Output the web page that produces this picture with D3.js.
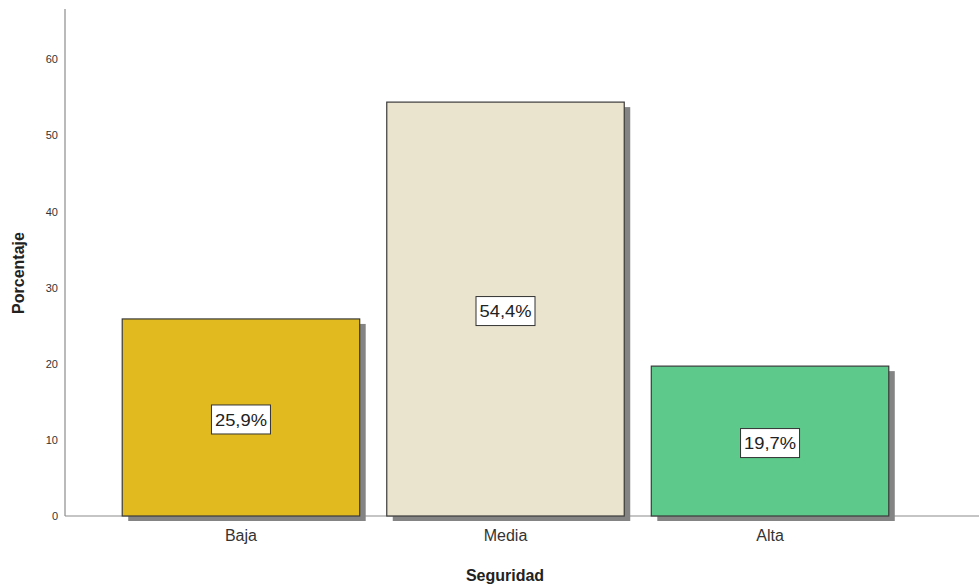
<!DOCTYPE html>
<html>
<head>
<meta charset="utf-8">
<script src="https://cdn.jsdelivr.net/npm/d3@7"></script>
<style>
  body { margin: 0; background: #fff; }
  svg { display: block; font-family: Arial, "Liberation Sans", sans-serif; }
</style>
</head>
<body>
<svg id="chart" width="979" height="584"></svg>
<script>
// Security level distribution (percent of respondents)
const categories = ["Baja", "Media", "Alta"];
const percentages = [25.9, 54.4, 19.7];
const barColors = ["#E0BA1E", "#EAE3CE", "#5DC98A"];
const yTicks = [0, 10, 20, 30, 40, 50, 60];

const svg = d3.select("#chart");
const left = 65, right = 979, bottom = 516;

const y = d3.scaleLinear().domain([0, 60]).range([bottom, 59.5]);
const x = d3.scaleBand().domain(categories)
  .range([109, 902]).paddingInner(0.1023).paddingOuter(0.05);

// axes
svg.append("line").attr("x1", left).attr("x2", left)
  .attr("y1", 9).attr("y2", bottom).attr("stroke", "#8c8c8c").attr("stroke-width", 1.2);
svg.append("line").attr("x1", left).attr("x2", right)
  .attr("y1", bottom).attr("y2", bottom).attr("stroke", "#8c8c8c").attr("stroke-width", 1.2);

svg.selectAll(".ytick").data(yTicks).enter().append("text")
  .attr("x", left - 7).attr("y", d => y(d)).attr("dy", "0.35em")
  .attr("text-anchor", "end").attr("font-size", 11).attr("fill", "#333")
  .text(d => d);

const data = categories.map((c, i) => ({ c, v: percentages[i], col: barColors[i] }));

// drop shadows
svg.selectAll(".shadow").data(data).enter().append("rect")
  .attr("x", d => x(d.c) + 6).attr("y", d => y(d.v) + 5)
  .attr("width", x.bandwidth()).attr("height", d => bottom - y(d.v))
  .attr("fill", "#848484");

// bars
svg.selectAll(".bar").data(data).enter().append("rect")
  .attr("x", d => x(d.c)).attr("y", d => y(d.v))
  .attr("width", x.bandwidth()).attr("height", d => bottom - y(d.v))
  .attr("fill", d => d.col).attr("stroke", "#3a3a3a").attr("stroke-width", 1.2);

// value labels
const lab = svg.selectAll(".lab").data(data).enter().append("g")
  .attr("transform", d => `translate(${x(d.c) + x.bandwidth() / 2},${y(d.v / 2) + 2})`);
lab.append("rect").attr("x", -29.5).attr("y", -14.5).attr("width", 59).attr("height", 29)
  .attr("fill", "#fff").attr("stroke", "#333").attr("stroke-width", 1);
lab.append("text").attr("text-anchor", "middle").attr("dy", "0.36em")
  .attr("font-size", 17).attr("fill", "#222").attr("textLength", 52)
  .attr("lengthAdjust", "spacingAndGlyphs")
  .text(d => d.v.toFixed(1).replace(".", ",") + "%");

// category labels
svg.selectAll(".xlab").data(categories).enter().append("text")
  .attr("x", d => x(d) + x.bandwidth() / 2).attr("y", 541)
  .attr("text-anchor", "middle").attr("font-size", 16).attr("fill", "#333")
  .text(d => d);

// axis titles
svg.append("text").attr("x", 505).attr("y", 581).attr("text-anchor", "middle")
  .attr("font-size", 16).attr("font-weight", "bold").attr("fill", "#222").text("Seguridad");
svg.append("text").attr("transform", "translate(24,273) rotate(-90)")
  .attr("text-anchor", "middle").attr("font-size", 16).attr("font-weight", "bold")
  .attr("fill", "#222").text("Porcentaje");
</script>
</body>
</html>
